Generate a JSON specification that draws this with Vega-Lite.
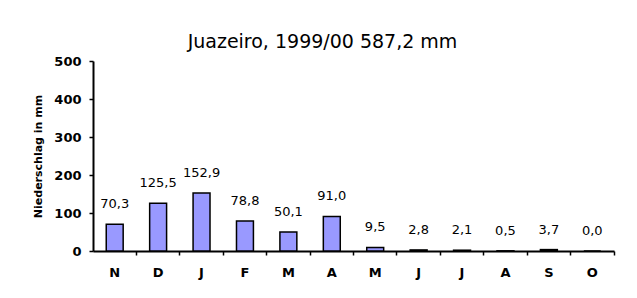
{
  "$schema": "https://vega.github.io/schema/vega-lite/v6.json",
  "width": 521,
  "height": 190,
  "autosize": {"type": "none"},
  "padding": {"left": 93, "top": 61, "right": 23, "bottom": 47},
  "background": "white",
  "title": {
    "text": "Juazeiro, 1999/00 587,2  mm",
    "font": "DejaVu Sans",
    "fontSize": 19,
    "fontWeight": "normal",
    "color": "black",
    "anchor": "middle",
    "dx": -31,
    "offset": 3
  },
  "config": {
    "view": {"stroke": null},
    "locale": {"number": {"decimal": ",", "thousands": ".", "grouping": [3], "currency": ["", " €"]}},
    "axis": {"domainColor": "black", "tickColor": "black", "labelColor": "black", "titleColor": "black", "grid": false}
  },
  "data": {
    "values": [
      {"month": "Nov", "mm": 70.3},
      {"month": "Dez", "mm": 125.5},
      {"month": "Jan", "mm": 152.9},
      {"month": "Feb", "mm": 78.8},
      {"month": "Mär", "mm": 50.1},
      {"month": "Apr", "mm": 91.0},
      {"month": "Mai", "mm": 9.5},
      {"month": "Jun", "mm": 2.8},
      {"month": "Jul", "mm": 2.1},
      {"month": "Aug", "mm": 0.5},
      {"month": "Sep", "mm": 3.7},
      {"month": "Okt", "mm": 0.0}
    ]
  },
  "encoding": {
    "y": {
      "field": "mm",
      "type": "quantitative",
      "scale": {"domain": [0, 500], "nice": false},
      "axis": {
        "title": "Niederschlag in mm",
        "titleFont": "DejaVu Sans",
        "titleFontSize": 11,
        "titleFontWeight": "bold",
        "titlePadding": 10,
        "values": [0, 100, 200, 300, 400, 500],
        "labelFont": "DejaVu Sans",
        "labelFontSize": 13,
        "labelFontWeight": "bold",
        "labelPadding": 8,
        "tickSize": 4,
        "tickWidth": 1.5,
        "domainWidth": 2
      }
    }
  },
  "layer": [
    {
      "mark": {"type": "bar", "fill": "#9999FF", "stroke": "black", "strokeWidth": 1.5, "width": {"band": 0.39}},
      "encoding": {
        "x": {
          "field": "month",
          "type": "nominal",
          "sort": null,
          "scale": {"paddingInner": 0, "paddingOuter": 0},
          "axis": {
            "orient": "bottom",
            "title": null,
            "labels": false,
            "bandPosition": 1,
            "tickSize": 4,
            "tickWidth": 1.5,
            "domainWidth": 2
          }
        }
      }
    },
    {
      "mark": {"type": "text", "font": "DejaVu Sans", "fontSize": 13, "color": "black", "baseline": "alphabetic", "dy": -16},
      "encoding": {
        "x": {
          "field": "month",
          "type": "nominal",
          "sort": null,
          "axis": {
            "orient": "bottom",
            "title": null,
            "ticks": false,
            "domain": false,
            "labelAngle": 0,
            "labelFont": "DejaVu Sans",
            "labelFontSize": 13,
            "labelFontWeight": "bold",
            "labelPadding": 15,
            "labelExpr": "substring(datum.label, 0, 1)"
          }
        },
        "text": {"field": "mm", "type": "quantitative", "format": ".1f"}
      }
    }
  ],
  "resolve": {"axis": {"x": "independent"}}
}
